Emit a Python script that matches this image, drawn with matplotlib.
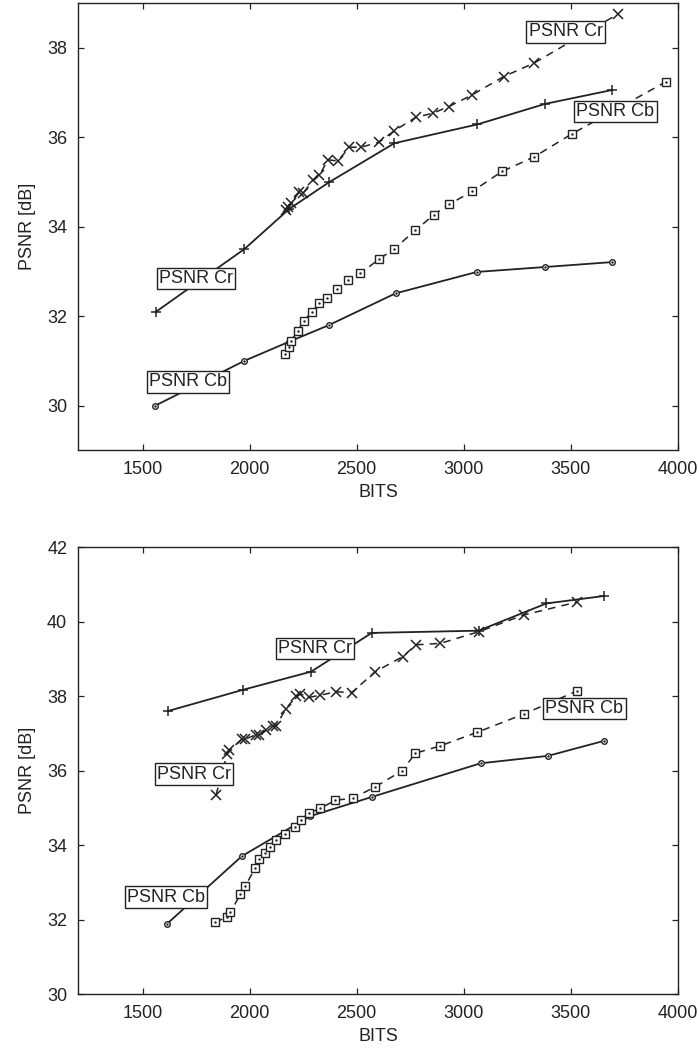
import matplotlib.pyplot as plt

plt.rcParams['font.family'] = ['Liberation Sans', 'DejaVu Sans']
plt.rcParams['font.size'] = 13

INK = '#222222'

### --- top panel data
top_cr_sol_x = [1563, 1975, 2185, 2372, 2676, 3063, 3380, 3692]
top_cr_sol_y = [32.1, 33.5, 34.4, 35.0, 35.87, 36.29, 36.75, 37.06]
top_cb_sol_x = [1560, 1975, 2185, 2370, 2681, 3061, 3380, 3692]
top_cb_sol_y = [30.0, 31.0, 31.43, 31.8, 32.51, 32.99, 33.1, 33.21]
top_cr_dash_x = [2170, 2180, 2193, 2232, 2250, 2295, 2326, 2365, 2411, 2466, 2520,
                 2603, 2676, 2776, 2855, 2930, 3039, 3186, 3327, 3720]
top_cr_dash_y = [34.38, 34.45, 34.53, 34.78, 34.75, 35.04, 35.15, 35.5, 35.47, 35.78, 35.78,
                 35.89, 36.15, 36.45, 36.54, 36.69, 36.95, 37.36, 37.66, 38.76]
top_cb_dash_x = [2167, 2182, 2193, 2224, 2252, 2291, 2326, 2362, 2408, 2461, 2517,
                 2603, 2673, 2774, 2860, 2930, 3039, 3179, 3327, 3505, 3946]
top_cb_dash_y = [31.15, 31.32, 31.44, 31.67, 31.89, 32.1, 32.29, 32.4, 32.6, 32.81, 32.96,
                 33.27, 33.5, 33.92, 34.27, 34.5, 34.79, 35.24, 35.56, 36.08, 37.25]

### --- bottom panel data
bot_cr_sol_x = [1617, 1967, 2287, 2570, 3069, 3385, 3653]
bot_cr_sol_y = [37.6, 38.17, 38.66, 39.7, 39.76, 40.49, 40.69]
bot_cb_sol_x = [1614, 1964, 2282, 2572, 3078, 3393, 3653]
bot_cb_sol_y = [31.89, 33.71, 34.78, 35.3, 36.2, 36.4, 36.8]
bot_cr_dash_x = [1843, 1895, 1905, 1964, 1980, 2030, 2043, 2077, 2108, 2123, 2170,
                 2217, 2237, 2279, 2330, 2404, 2477, 2587, 2714, 2776, 2891, 3069, 3279, 3530]
bot_cr_dash_y = [35.35, 36.45, 36.55, 36.85, 36.85, 36.97, 36.97, 37.09, 37.2, 37.2, 37.67,
                 38.0, 38.06, 37.97, 38.03, 38.12, 38.1, 38.66, 39.06, 39.38, 39.42, 39.73, 40.18, 40.53]
bot_cb_dash_x = [1840, 1894, 1910, 1956, 1980, 2027, 2045, 2073, 2097, 2123, 2167,
                 2214, 2240, 2276, 2330, 2400, 2481, 2587, 2712, 2774, 2891, 3061, 3279, 3528]
bot_cb_dash_y = [31.93, 32.08, 32.2, 32.68, 32.91, 33.4, 33.62, 33.8, 33.96, 34.14, 34.29,
                 34.5, 34.69, 34.86, 34.99, 35.21, 35.26, 35.57, 36.0, 36.47, 36.67, 37.03, 37.52, 38.14]

### --- label boxes (text, x, y)
top_labels = [("PSNR Cr", 3475, 38.36), ("PSNR Cb", 3708, 36.58),
              ("PSNR Cr", 1749, 32.85), ("PSNR Cb", 1712, 30.53)]
bot_labels = [("PSNR Cr", 2306, 39.29), ("PSNR Cr", 1739, 35.91),
              ("PSNR Cb", 3563, 37.67), ("PSNR Cb", 1610, 32.61)]

xticks = [1500, 2000, 2500, 3000, 3500, 4000]
dash = (0, (5, 4))


def draw_panel(ax, cr_sol, cb_sol, cr_dash, cb_dash, labels, ylim, yticks):
    ax.plot(*cr_sol, color=INK, lw=1.3, marker='+', ms=7, mew=1.1)
    ax.plot(*cb_sol, color=INK, lw=1.3, marker='o', ms=4, mfc='white', mew=1.0)
    ax.plot(*cb_sol, ls='none', color=INK, marker='.', ms=1.5)
    ax.plot(*cr_dash, color=INK, lw=1.1, ls=dash, marker='x', ms=7, mew=1.1)
    ax.plot(*cb_dash, color=INK, lw=1.1, ls=dash, marker='s', ms=5.5, mfc='white', mew=1.0)
    ax.plot(*cb_dash, ls='none', color=INK, marker='.', ms=1.5)
    for txt, x, y in labels:
        ax.text(x, y, txt, ha='center', va='center', fontsize=13, color=INK, zorder=5,
                bbox=dict(boxstyle='square,pad=0.12', fc='white', ec=INK, lw=1.0))
    ax.set_xlim(1200, 4000)
    ax.set_ylim(*ylim)
    ax.set_xticks(xticks)
    ax.set_yticks(yticks)
    ax.tick_params(direction='in', top=True, right=True, length=4, width=0.9,
                   colors=INK, labelsize=13, pad=8)
    for sp in ax.spines.values():
        sp.set_linewidth(1.0)
        sp.set_color(INK)
    ax.set_xlabel('BITS', fontsize=13, color=INK, labelpad=4)
    ax.set_ylabel('PSNR [dB]', fontsize=13, color=INK, labelpad=8)


fig = plt.figure(figsize=(6.99, 10.57), dpi=100)
ax1 = fig.add_axes([0.112, 0.574, 0.858, 0.4229])
ax2 = fig.add_axes([0.112, 0.0593, 0.858, 0.423])

draw_panel(ax1, (top_cr_sol_x, top_cr_sol_y), (top_cb_sol_x, top_cb_sol_y),
           (top_cr_dash_x, top_cr_dash_y), (top_cb_dash_x, top_cb_dash_y),
           top_labels, (29, 39), [30, 32, 34, 36, 38])
draw_panel(ax2, (bot_cr_sol_x, bot_cr_sol_y), (bot_cb_sol_x, bot_cb_sol_y),
           (bot_cr_dash_x, bot_cr_dash_y), (bot_cb_dash_x, bot_cb_dash_y),
           bot_labels, (30, 42), [30, 32, 34, 36, 38, 40, 42])

fig.savefig('out.png', dpi=100)
